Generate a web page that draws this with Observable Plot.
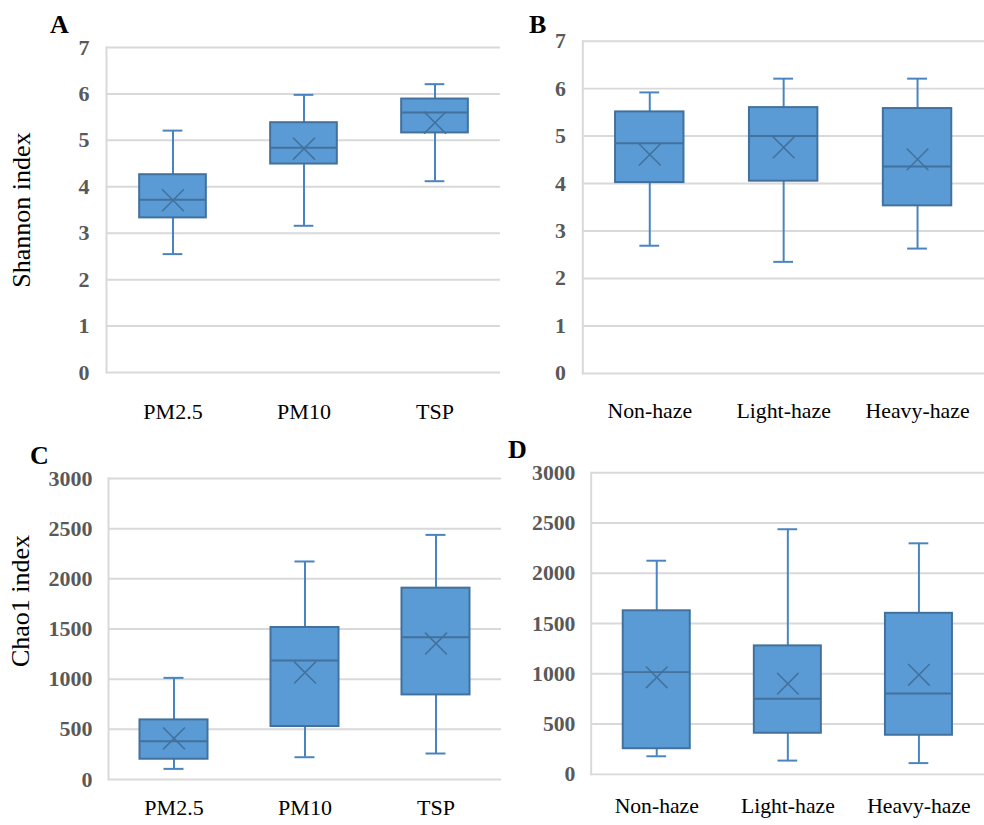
<!DOCTYPE html>
<html>
<head>
<meta charset="utf-8">
<script src="https://cdn.jsdelivr.net/npm/d3@7"></script>
<script src="https://cdn.jsdelivr.net/npm/@observablehq/plot@0.6"></script>
<style>
  html, body { margin: 0; padding: 0; background: #fff; overflow: hidden; }
  #wrap { position: relative; width: 984px; height: 825px; font-family: "Liberation Serif", "Times New Roman", serif; }
  .panel { position: absolute; }
  .letter { position: absolute; font-weight: bold; font-size: 26px; color: #000; line-height: 1; }
  .ylab { position: absolute; font-size: 26px; color: #000; white-space: nowrap; transform: translate(-50%, -50%) rotate(-90deg); line-height: 1; }
</style>
</head>
<body>
<div id="wrap">
  <div class="letter" style="left:50px; top:12px;">A</div>
  <div class="letter" style="left:529px; top:12px;">B</div>
  <div class="letter" style="left:30px; top:443px;">C</div>
  <div class="letter" style="left:508px; top:437px;">D</div>
  <div class="ylab" style="left:22px; top:210px;">Shannon index</div>
  <div class="ylab" style="left:21px; top:601px;">Chao1 index</div>
</div>
<script>
// ---- categories ----
const fractionCats = ["PM2.5", "PM10", "TSP"];
const hazeCats = ["Non-haze", "Light-haze", "Heavy-haze"];

// ---- Panel A: Shannon index by particle fraction ----
const shannonFracMin    = [2.55, 3.16, 4.12];
const shannonFracQ1     = [3.33, 4.49, 5.16];
const shannonFracMedian = [3.72, 4.84, 5.60];
const shannonFracQ3     = [4.26, 5.38, 5.89];
const shannonFracMax    = [5.21, 5.98, 6.21];
const shannonFracMean   = [3.71, 4.82, 5.38];

// ---- Panel B: Shannon index by haze level ----
const shannonHazeMin    = [2.69, 2.35, 2.63];
const shannonHazeQ1     = [4.02, 4.05, 3.53];
const shannonHazeMedian = [4.85, 5.00, 4.36];
const shannonHazeQ3     = [5.51, 5.60, 5.58];
const shannonHazeMax    = [5.92, 6.21, 6.21];
const shannonHazeMean   = [4.61, 4.76, 4.51];

// ---- Panel C: Chao1 index by particle fraction ----
const chaoFracMin    = [106, 222, 259];
const chaoFracQ1     = [202, 528, 843];
const chaoFracMedian = [382, 1186, 1418];
const chaoFracQ3     = [594, 1515, 1907];
const chaoFracMax    = [1013, 2173, 2438];
const chaoFracMean   = [409, 1066, 1355];

// ---- Panel D: Chao1 index by haze level ----
const chaoHazeMin    = [180, 137, 112];
const chaoHazeQ1     = [255, 409, 389];
const chaoHazeMedian = [1017, 752, 804];
const chaoHazeQ3     = [1627, 1278, 1602];
const chaoHazeMax    = [2125, 2438, 2298];
const chaoHazeMean   = [965, 902, 990];

// ---- tick values ----
const shannonTicks = [0, 1, 2, 3, 4, 5, 6, 7];
const chaoTicks = [0, 500, 1000, 1500, 2000, 2500, 3000];

function rows(cats, mn, q1, md, q3, mx, me) {
  return cats.map((c, i) => ({cat: c, min: mn[i], q1: q1[i], median: md[i], q3: q3[i], max: mx[i], mean: me[i]}));
}

const FILL = "#5b9bd5", STROKE = "#41719c", WHISK = "#4a84c0", GRID = "#d9d9d9";

function panel(cfg) {
  const bw = (cfg.width - cfg.marginLeft - cfg.marginRight) / 3;
  const boxInset = (bw - cfg.boxWidth) / 2;
  const capInset = (bw - 20) / 2;
  const data = cfg.data;
  const p = Plot.plot({
    width: cfg.width,
    height: cfg.height,
    marginLeft: cfg.marginLeft,
    marginRight: cfg.marginRight,
    marginTop: cfg.marginTop,
    marginBottom: cfg.marginBottom,
    style: {fontFamily: '"Liberation Serif", "Times New Roman", serif', fontSize: "22px", background: "transparent", overflow: "visible"},
    x: {domain: cfg.cats, padding: 0, label: null},
    y: {domain: cfg.domain, label: null},
    marks: [
      Plot.gridY(cfg.ticks, {stroke: GRID, strokeOpacity: 1, strokeWidth: 2}),
      Plot.frame({anchor: "left", stroke: GRID, strokeWidth: 2}),
      Plot.axisY(cfg.ticks, {tickSize: 0, tickPadding: cfg.yPad, fontWeight: "bold", fill: "#595959", label: null, tickFormat: d => String(d)}),
      Plot.axisX({tickSize: 0, tickPadding: cfg.xPad, fill: "#000", label: null}),
      Plot.ruleX(data, {x: "cat", y1: "min", y2: "max", stroke: WHISK, strokeWidth: 2}),
      Plot.tickY(data, {x: "cat", y: "min", stroke: WHISK, strokeWidth: 2, insetLeft: capInset, insetRight: capInset}),
      Plot.tickY(data, {x: "cat", y: "max", stroke: WHISK, strokeWidth: 2, insetLeft: capInset, insetRight: capInset}),
      Plot.barY(data, {x: "cat", y1: "q1", y2: "q3", fill: FILL, stroke: STROKE, strokeWidth: 2, insetLeft: boxInset, insetRight: boxInset}),
      Plot.tickY(data, {x: "cat", y: "median", stroke: STROKE, strokeWidth: 2, insetLeft: boxInset, insetRight: boxInset}),
      Plot.dot(data, {x: "cat", y: "mean", symbol: "times", r: 10, stroke: STROKE, strokeWidth: 1.5})
    ]
  });
  const div = document.createElement("div");
  div.className = "panel";
  div.style.left = cfg.left + "px";
  div.style.top = cfg.top + "px";
  div.appendChild(p);
  document.getElementById("wrap").appendChild(div);
}

panel({
  left: 0, top: 0, width: 500, height: 420,
  marginLeft: 106, marginRight: 0, marginTop: 47, marginBottom: 48,
  cats: fractionCats, domain: [0, 7], ticks: shannonTicks, yPad: 17, xPad: 31, boxWidth: 67,
  data: rows(fractionCats, shannonFracMin, shannonFracQ1, shannonFracMedian, shannonFracQ3, shannonFracMax, shannonFracMean)
});
panel({
  left: 500, top: 0, width: 488, height: 420,
  marginLeft: 83, marginRight: 0, marginTop: 41, marginBottom: 44,
  cats: hazeCats, domain: [0, 7], ticks: shannonTicks, yPad: 17, xPad: 29, boxWidth: 69,
  data: rows(hazeCats, shannonHazeMin, shannonHazeQ1, shannonHazeMedian, shannonHazeQ3, shannonHazeMax, shannonHazeMean)
});
panel({
  left: 0, top: 420, width: 501, height: 405,
  marginLeft: 108, marginRight: 0, marginTop: 58, marginBottom: 46,
  cats: fractionCats, domain: [0, 3000], ticks: chaoTicks, yPad: 16, xPad: 20, boxWidth: 68,
  data: rows(fractionCats, chaoFracMin, chaoFracQ1, chaoFracMedian, chaoFracQ3, chaoFracMax, chaoFracMean)
});
panel({
  left: 500, top: 420, width: 491, height: 405,
  marginLeft: 92, marginRight: 0, marginTop: 53, marginBottom: 46,
  cats: hazeCats, domain: [0, 3000], ticks: chaoTicks, yPad: 16, xPad: 24, boxWidth: 68,
  data: rows(hazeCats, chaoHazeMin, chaoHazeQ1, chaoHazeMedian, chaoHazeQ3, chaoHazeMax, chaoHazeMean)
});
</script>
</body>
</html>
